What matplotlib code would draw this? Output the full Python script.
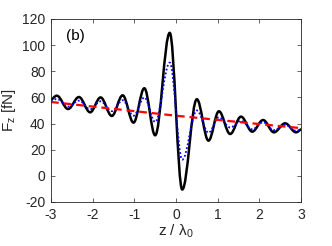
import numpy as np
import matplotlib.pyplot as plt
from matplotlib.path import Path
from matplotlib.patches import PathPatch

plt.rcParams['font.family'] = ['Liberation Sans', 'DejaVu Sans']
plt.rcParams['mathtext.default'] = 'regular'
plt.rcParams['axes.unicode_minus'] = False

# turning points of the curves (z / lambda_0, F_z in fN)
z_ext = [-3.0, -2.86, -2.59, -2.33, -2.06, -1.81, -1.54, -1.28, -1.02, -0.76, -0.50,
         -0.15, 0.15, 0.50, 0.78, 1.03, 1.30, 1.56, 1.83, 2.09, 2.35, 2.62, 2.88, 3.0]
f_solid = [58.0, 61.3, 51.1, 60.3, 48.6, 60.0, 45.8, 61.6, 40.7, 67.0, 31.0,
           109.4, -10.5, 58.6, 26.9, 49.4, 32.0, 45.3, 33.8, 42.7, 33.3, 40.2, 33.3, 35.6]
f_dotted = [57.0, 58.8, 53.0, 57.5, 51.0, 57.0, 49.5, 57.8, 46.0, 60.0, 41.2,
            86.6, 12.4, 50.0, 33.0, 44.8, 37.0, 42.0, 35.6, 41.0, 35.0, 39.0, 34.5, 35.5]

# slowly varying background
z_dash = [-3, -2, -1, 0, 1, 2, 3]
f_dash = [56.5, 53.0, 49.5, 46.0, 42.8, 39.6, 36.5]

xticks = [-3, -2, -1, 0, 1, 2, 3]
yticks = [-20, 0, 20, 40, 60, 80, 100, 120]

gray = '#262626'


def smooth_path(xs, ys):
    # cubic bezier through the turning points, flat tangent at each extremum
    k = 1 - 2 / np.pi
    verts = [(xs[0], ys[0])]
    codes = [Path.MOVETO]
    n = len(xs)
    for i in range(n - 1):
        x0, y0, x1, y1 = xs[i], ys[i], xs[i + 1], ys[i + 1]
        d = x1 - x0
        if i == 0:
            c1 = (x0 + d / 3, y0 + (y1 - y0) / 3)
        else:
            c1 = (x0 + k * d, y0)
        if i == n - 2:
            c2 = (x1 - d / 3, y1 - (y1 - y0) / 3)
        else:
            c2 = (x1 - k * d, y1)
        verts += [c1, c2, (x1, y1)]
        codes += [Path.CURVE4] * 3
    return Path(verts, codes)


fig = plt.figure(figsize=(3.32, 2.46), dpi=100)
ax = fig.add_axes([0.1536, 0.1789, 0.753, 0.744])

ax.add_patch(PathPatch(smooth_path(z_ext, f_solid), fill=False, edgecolor='black',
                       lw=1.8, capstyle='round', joinstyle='round'))
ax.add_patch(PathPatch(smooth_path(z_ext, f_dotted), fill=False, edgecolor='#0000ff',
                       lw=1.3, linestyle=(0, (1, 1.2))))
ax.plot(z_dash, f_dash, color='#ff0000', lw=1.6, linestyle=(0, (3.5, 2.2)))

ax.set_xlim(-3, 3)
ax.set_ylim(-20, 120)
ax.set_xticks(xticks)
ax.set_yticks(yticks)
ax.tick_params(direction='in', length=3, width=0.5, top=True, right=True,
               colors=gray, labelsize=10, pad=4)
for s in ax.spines.values():
    s.set_color(gray)
    s.set_linewidth(0.6)

ax.set_xlabel(r'z / $\lambda_0$', fontsize=11, color=gray, labelpad=1)
ax.set_ylabel(r'F$_z$ [fN]', fontsize=11, color=gray, labelpad=3)
ax.text(-2.63, 107, '(b)', fontsize=11, color='black', ha='left', va='center')

fig.savefig('out.png', dpi=100)
